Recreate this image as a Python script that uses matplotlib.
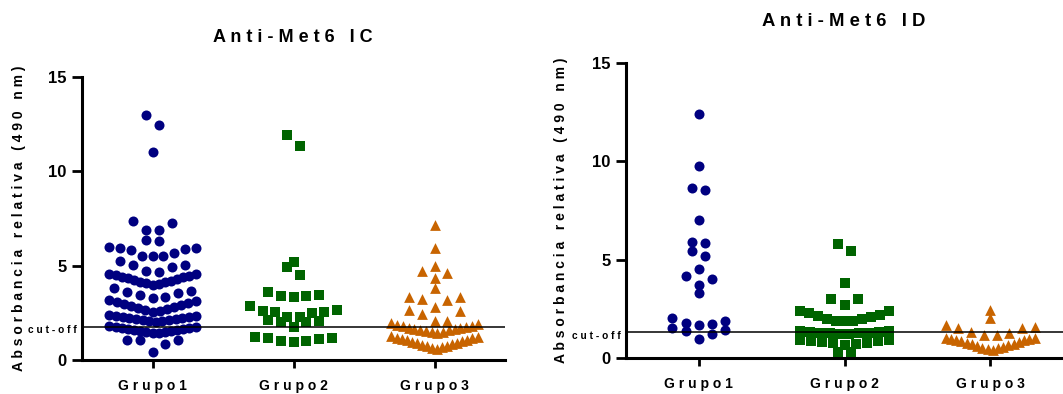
import numpy as np
import matplotlib.pyplot as plt

plt.rcParams['font.family'] = ['Liberation Sans', 'DejaVu Sans']
plt.rcParams['font.weight'] = 'bold'

W, H = 1063, 394

groups = ['Grupo1', 'Grupo2', 'Grupo3']

# Anti-Met6 IC (left panel)
ic_grupo1 = [0.42, 0.85, 1.04, 1.06, 1.08,
             1.41, 1.44, 1.46, 1.49, 1.52, 1.55, 1.57, 1.60, 1.63, 1.66, 1.68, 1.71, 1.74, 1.76, 1.78,
             2.03, 2.05, 2.08, 2.11, 2.13, 2.16, 2.19, 2.22, 2.24, 2.27, 2.30, 2.33, 2.35, 2.38,
             2.55, 2.60, 2.66, 2.71, 2.76, 2.82, 2.87, 2.93, 2.98, 3.03, 3.09, 3.14, 3.18,
             3.26, 3.35, 3.47, 3.56, 3.62, 3.65, 3.79,
             3.97, 4.02, 4.06, 4.11, 4.15, 4.20, 4.24, 4.29, 4.33, 4.38, 4.42, 4.47, 4.51, 4.55, 4.58,
             4.67, 4.73, 4.94, 5.03, 5.03, 5.26,
             5.50, 5.50, 5.50, 5.68, 5.82, 5.86, 5.91, 5.96, 5.98,
             6.30, 6.38, 6.88, 6.88, 7.28, 7.37,
             11.02, 12.43, 12.96]
ic_grupo2 = [0.93, 1.00, 1.00, 1.09, 1.15, 1.15, 1.23,
             1.76, 1.99, 2.03, 2.08, 2.12,
             2.26, 2.26, 2.47, 2.52, 2.52, 2.59, 2.65, 2.87,
             3.35, 3.40, 3.40, 3.44, 3.62,
             4.50, 4.94, 5.20, 11.36, 11.92]
ic_grupo3 = [0.60, 0.64, 0.68, 0.72, 0.76, 0.80, 0.84, 0.88, 0.92, 0.96, 1.00, 1.04, 1.08, 1.12, 1.16, 1.19, 1.22, 1.25,
             1.45, 1.48, 1.51, 1.54, 1.57, 1.60, 1.63, 1.66, 1.69, 1.72, 1.75, 1.78, 1.82, 1.86, 1.90, 1.94,
             2.08, 2.08, 2.43, 2.59, 2.65, 2.82, 3.17, 3.21, 3.35, 3.35, 3.79,
             4.32, 4.62, 4.73, 4.99, 5.91, 7.14]
ic_cutoff = 1.75

# Anti-Met6 ID (right panel)
id_grupo1 = [0.96, 1.22, 1.37, 1.42, 1.51, 1.68, 1.73, 1.79, 1.90, 2.01,
             3.28, 3.70, 4.04, 4.16, 4.55, 5.18, 5.43, 5.85, 5.90, 7.00,
             8.56, 8.65, 9.76, 12.42]
id_grupo2 = [0.32, 0.32,
             0.66, 0.70, 0.74, 0.78, 0.83, 0.86, 0.88, 0.91, 0.91,
             1.20, 1.22, 1.25, 1.25, 1.27, 1.28, 1.30, 1.30, 1.35, 1.35,
             1.86, 1.87, 1.88, 1.96, 1.98, 2.10, 2.13, 2.18, 2.27, 2.40, 2.40,
             2.69, 2.99, 2.99, 3.79, 5.43, 5.79]
id_grupo3 = [0.41, 0.45, 0.49, 0.53, 0.57, 0.61, 0.65, 0.69, 0.73, 0.77, 0.81, 0.85, 0.89, 0.93, 0.96, 0.99, 1.02, 1.04,
             1.17, 1.17, 1.29, 1.34, 1.51, 1.51, 1.59, 1.68,
             2.01, 2.44]
id_cutoff = 1.32

colors = ['#000080', '#006400', '#C86400']
markers = ['o', 's', '^']
sizes = [52, 44, 60]


def spaced(s):
    return ' '.join(s)


def dot_offsets(values, origin, binh, step=0.091, maxw=0.61):
    # rows of points like a GraphPad scatter dot plot
    values = np.asarray(values, float)
    offsets = np.zeros(len(values))
    bins = np.floor((values - origin) / binh).astype(int)
    for b in np.unique(bins):
        idx = np.where(bins == b)[0]
        idx = idx[np.argsort(values[idx], kind='stable')]
        n = len(idx)
        s = step if n < 2 else min(step, maxw / (n - 1))
        if n % 2:
            slots = [0] + [sg * k for k in range(1, n) for sg in (1, -1)]
        else:
            slots = [sg * (k + 0.5) for k in range(n) for sg in (1, -1)]
        offsets[idx] = np.array(slots[:n]) * s
    return offsets


def draw_panel(ax, data, origins, binh, cutoff, title, title_xy, title_size):
    for i, vals in enumerate(data):
        off = dot_offsets(vals, origins[i], binh)
        ax.scatter(i + off, vals, s=sizes[i], c=colors[i], marker=markers[i],
                   linewidths=0, clip_on=False, zorder=3)
    ax.axhline(cutoff, color='black', lw=1.1, zorder=4)
    ax.annotate(spaced('cut-off'), xy=(0, cutoff), xycoords=('axes fraction', 'data'),
                xytext=(-4, -2.5), textcoords='offset points', ha='right', va='center',
                fontsize=7.3, fontweight='bold')

    ax.set_xlim(-0.5, 2.5)
    ax.set_ylim(0, 15)
    ax.set_yticks([0, 5, 10, 15])
    ax.set_xticks(range(3))
    ax.set_xticklabels([spaced(g) for g in groups], fontsize=10)
    ax.tick_params(axis='y', width=2, length=7, labelsize=12, pad=4)
    ax.tick_params(axis='x', width=2, length=6, pad=8)
    for side in ['top', 'right']:
        ax.spines[side].set_visible(False)
    for side in ['left', 'bottom']:
        ax.spines[side].set_linewidth(2.2)
    ax.set_ylabel(spaced('Absorbancia relativa (490 nm)'), fontsize=10, fontweight='bold')
    ax.yaxis.set_label_coords(-0.132, 0.5)
    fig.text(title_xy[0] / W, 1 - title_xy[1] / H, spaced(title), ha='center', va='center',
             fontsize=title_size, fontweight='bold')


fig = plt.figure(figsize=(W / 100, H / 100), dpi=100)
ax1 = fig.add_axes([82 / W, 1 - 360 / H, 423 / W, 283 / H])
ax2 = fig.add_axes([626 / W, 1 - 358 / H, 437 / W, 295 / H])

draw_panel(ax1, [ic_grupo1, ic_grupo2, ic_grupo3], [0.4, 0.85, 0.58], 0.7,
           ic_cutoff, 'Anti-Met6 IC', (293, 37), 13)
draw_panel(ax2, [id_grupo1, id_grupo2, id_grupo3], [0.93, 0.5, 0.38], 0.67,
           id_cutoff, 'Anti-Met6 ID', (844, 21), 13.3)

fig.savefig('out.png', dpi=100)
